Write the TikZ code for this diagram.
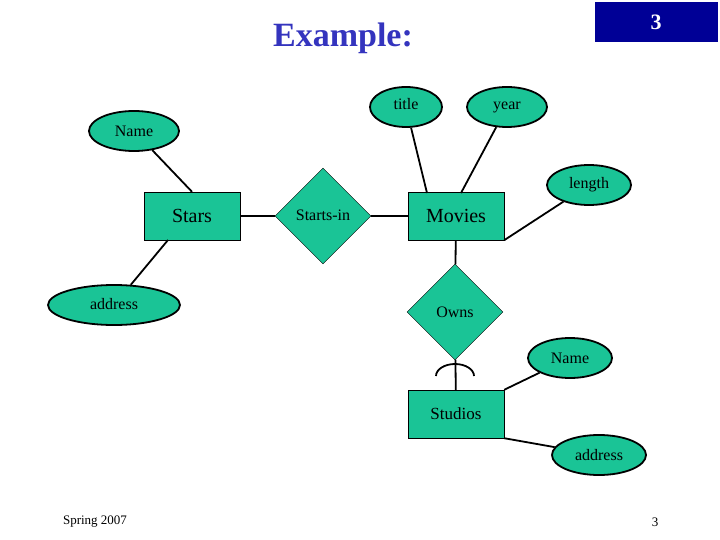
\documentclass[tikz,border=0pt]{standalone}
\usepackage{fontspec}
\setmainfont{Liberation Serif}
\usetikzlibrary{shapes.geometric,positioning}
\definecolor{ergreen}{RGB}{26,196,150}
\definecolor{slideblue}{RGB}{52,52,190}
\definecolor{boxblue}{RGB}{0,0,150}

\begin{document}
\begin{tikzpicture}[x=1pt,y=-1pt,
      attr/.style = {ellipse,draw,line width=1.8pt,fill=ergreen,inner sep=0pt,
         minimum height=40pt,font=\fontsize{16}{18}\selectfont},
      entity/.style = {rectangle,draw,fill=ergreen,minimum width=96pt,
         minimum height=48pt,font=\fontsize{20}{22}\selectfont},
      relship/.style = {diamond,draw,fill=ergreen,minimum width=96pt,
         minimum height=96pt,inner sep=0pt,font=\fontsize{16}{18}\selectfont},
      link/.style = {line width=1.8pt}
]
   \useasboundingbox (0,0) rectangle (720,540);

   % header
   \node[font=\fontsize{34}{36}\selectfont\bfseries,text=slideblue] (head) at (343,38) {Example:};
   \node[fill=boxblue,minimum width=123pt,minimum height=40pt,
      text=white,font=\fontsize{22}{24}\selectfont\bfseries] (pnum) at (656,22) {3};

   % entities and relationships
   \node[entity]  (stars)   at (192,216) {Stars};
   \node[entity]  (movies)  at (456,216) {Movies};
   \node[entity,font=\fontsize{17}{19}\selectfont] (studios) at (456,414) {Studios};
   \node[relship] (starsin) at (323,216) {\raisebox{2pt}{Starts-in}};
   \node[relship] (owns)    at (455,312) {Owns};

   % attributes
   \node[attr,minimum width=72pt]  (title)  at (406,107) {\raisebox{6pt}{title}};
   \node[attr,minimum width=80pt]  (year)   at (507,107) {year};
   \node[attr,minimum width=90pt]  (sname)  at (134,131) {Name};
   \node[attr,minimum width=84pt]  (length) at (589,185) {length};
   \node[attr,minimum width=132pt] (saddr)  at (114,305) {\raisebox{2pt}{address}};
   \node[attr,minimum width=84pt]  (oname)  at (570,358) {Name};
   \node[attr,minimum width=94pt]  (oaddr)  at (599,455) {address};

   % links
   \draw[link] (sname) -- (stars.north);
   \draw[link] (saddr) -- (168,240);
   \draw[link] (stars) -- (starsin);
   \draw[link] (starsin) -- (movies);
   \draw[link] (title) -- (427,193);
   \draw[link] (year) -- (461,193);
   \draw[link] (length) -- (movies.south east);
   \draw[link] (movies) -- (owns);
   \draw[link] (owns) -- (studios);
   \draw[link] (oname) -- (studios.north east);
   \draw[link] (studios.south east) -- (oaddr);
   \coordinate (arcl) at (436,376);
   \draw[link] (arcl) arc[start angle=180,end angle=360,x radius=19,y radius=12];

   % footer
   \node[font=\fontsize{13}{15}\selectfont] (foot) at (95,522) {Spring 2007};
   \node[font=\fontsize{13}{15}\selectfont] (fnum) at (655,522) {3};
\end{tikzpicture}
\end{document}
